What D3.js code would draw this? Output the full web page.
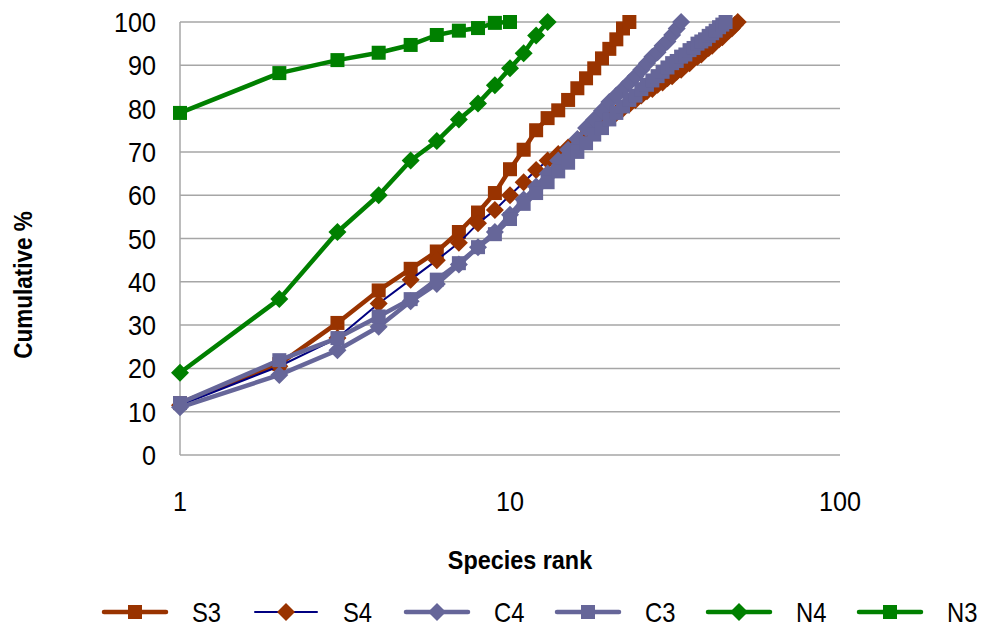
<!DOCTYPE html>
<html>
<head>
<meta charset="utf-8">
<script src="https://cdn.jsdelivr.net/npm/d3@7"></script>
<style>
  body { margin: 0; background: #fff; }
  svg text { font-family: "Liberation Sans", Arial, sans-serif; fill: #000; }
</style>
</head>
<body>
<div id="chart"></div>
<script>
// cumulative % by species rank (rank = index + 1)
var s3 = [12, 21, 30.5, 38, 43, 47, 51.5, 56, 60.5, 66, 70.5, 75, 77.8, 79.6, 82, 84.7, 87, 89.3, 91.6, 93.8, 96, 98.5, 100];
var s4 = [11.5, 20.5, 27, 35, 40.5, 45, 49, 53.5, 56.6, 60, 63, 65.8, 68, 69.5, 71, 72.5, 74, 75.5, 77, 78, 79, 80, 81, 82,
          83, 84, 84.5, 85.5, 86, 87, 87.5, 88.5, 89, 90, 90.5, 91.5, 92, 92.5, 93.5, 94, 94.5, 95.5, 96, 96.5, 97.5, 98, 98.5, 99.3, 100];
var c4 = [11, 18.5, 24.2, 29.6, 35.5, 39.5, 44, 48, 51.5, 55.5, 59, 62, 65, 68, 70.5, 73, 75.5, 77.5, 79.5, 81.5, 83, 84.5,
          86, 87.5, 89, 90.5, 92, 93, 94.5, 95.5, 97, 98.5, 100];
var c3 = [12, 21.9, 27, 32, 36, 40.5, 44.3, 48, 51, 54.5, 58, 60.5, 63, 65.5, 67.5, 70, 72, 74, 75.5, 77.5, 79, 80.5, 82, 83,
          84.5, 85.5, 86.5, 87.5, 88.5, 89.5, 90.5, 91, 92, 92.5, 93.5, 94, 95, 95.5, 96, 96.8, 97.4, 98, 98.8, 99.4, 100];
var n4 = [19, 36, 51.5, 60, 68, 72.5, 77.5, 81.2, 85.4, 89.3, 92.8, 96.9, 100];
var n3 = [79, 88.2, 91.2, 92.9, 94.7, 97, 98, 98.6, 99.8, 100];

var seriesNames = ["S3", "S4", "C4", "C3", "N4", "N3"];
var seriesValues = [s3, s4, c4, c3, n4, n3];
var yTicks = [0, 10, 20, 30, 40, 50, 60, 70, 80, 90, 100];
var xTicks = [1, 10, 100];

var styles = {
  S3: { line: "#993300", lw: 4.5, marker: "square", fill: "#993300" },
  S4: { line: "#000080", lw: 2, marker: "diamond", fill: "#993300" },
  C4: { line: "#666699", lw: 4.5, marker: "diamond", fill: "#666699" },
  C3: { line: "#666699", lw: 4.5, marker: "square", fill: "#666699" },
  N4: { line: "#008000", lw: 4.5, marker: "diamond", fill: "#008000" },
  N3: { line: "#008000", lw: 4.5, marker: "square", fill: "#008000" }
};

var width = 982, height = 635;
var svg = d3.select("#chart").append("svg")
  .attr("width", width)
  .attr("height", height);

var x = d3.scaleLog().domain([1, 100]).range([180, 840]);
var y = d3.scaleLinear().domain([0, 100]).range([455, 22]);

// narrow text: squeeze horizontally
function label(parent, tx, ty, str, size, anchor, bold, sx) {
  return parent.append("text")
    .attr("transform", "translate(" + tx + "," + ty + ") scale(" + (sx || 0.9) + ",1)")
    .attr("dy", "0.36em")
    .attr("text-anchor", anchor)
    .attr("font-size", size)
    .attr("font-weight", bold ? "bold" : "normal")
    .text(str);
}

// gridlines
svg.append("g")
  .selectAll("line")
  .data(yTicks)
  .enter()
  .append("line")
  .attr("x1", x(1)).attr("x2", x(100))
  .attr("y1", d => y(d)).attr("y2", d => y(d))
  .attr("stroke", "#a6a6a6")
  .attr("stroke-width", 1.5);

// y axis line
svg.append("line")
  .attr("x1", x(1)).attr("x2", x(1))
  .attr("y1", y(100)).attr("y2", y(0))
  .attr("stroke", "#a6a6a6")
  .attr("stroke-width", 1.5);

// tick labels
var yl = svg.append("g");
yTicks.forEach(d => label(yl, 156, y(d), d, 28, "end"));
var xl = svg.append("g");
xTicks.forEach(d => label(xl, x(d), 501, d, 28, "middle"));

// axis titles
label(svg, 520, 560, "Species rank", 26, "middle", true);
svg.append("text")
  .attr("transform", "translate(23,285) rotate(-90) scale(0.9,1)")
  .attr("dy", "0.36em")
  .attr("text-anchor", "middle")
  .attr("font-size", 25)
  .attr("font-weight", "bold")
  .text("Cumulative %");

function drawMarker(g, kind, cx, cy, fill) {
  if (kind === "square") {
    g.append("rect")
      .attr("x", cx - 7).attr("y", cy - 7)
      .attr("width", 14).attr("height", 14)
      .attr("fill", fill);
  } else {
    g.append("path")
      .attr("d", "M" + cx + "," + (cy - 9) + "L" + (cx + 9) + "," + cy + "L" + cx + "," + (cy + 9) + "L" + (cx - 9) + "," + cy + "Z")
      .attr("fill", fill);
  }
}

var line = d3.line()
  .x((d, i) => x(i + 1))
  .y(d => y(d));

seriesNames.forEach(function(name, k) {
  var st = styles[name];
  var vals = seriesValues[k];
  var g = svg.append("g").attr("class", "series-" + name);
  g.append("path")
    .datum(vals)
    .attr("d", line)
    .attr("fill", "none")
    .attr("stroke", st.line)
    .attr("stroke-width", st.lw)
    .attr("stroke-linejoin", "round");
  vals.forEach(function(v, i) {
    drawMarker(g, st.marker, x(i + 1), y(v), st.fill);
  });
});

// legend
var legend = svg.append("g");
seriesNames.forEach(function(name, k) {
  var st = styles[name];
  var x0 = 104 + k * 151;
  var ly = 612;
  legend.append("line")
    .attr("x1", x0).attr("x2", x0 + 62)
    .attr("y1", ly).attr("y2", ly)
    .attr("stroke", st.line)
    .attr("stroke-width", st.lw)
    .attr("stroke-linecap", "round");
  drawMarker(legend, st.marker, x0 + 31, ly, st.fill);
  label(legend, x0 + 88, ly, name, 28, "start", false, 0.85);
});
</script>
</body>
</html>
